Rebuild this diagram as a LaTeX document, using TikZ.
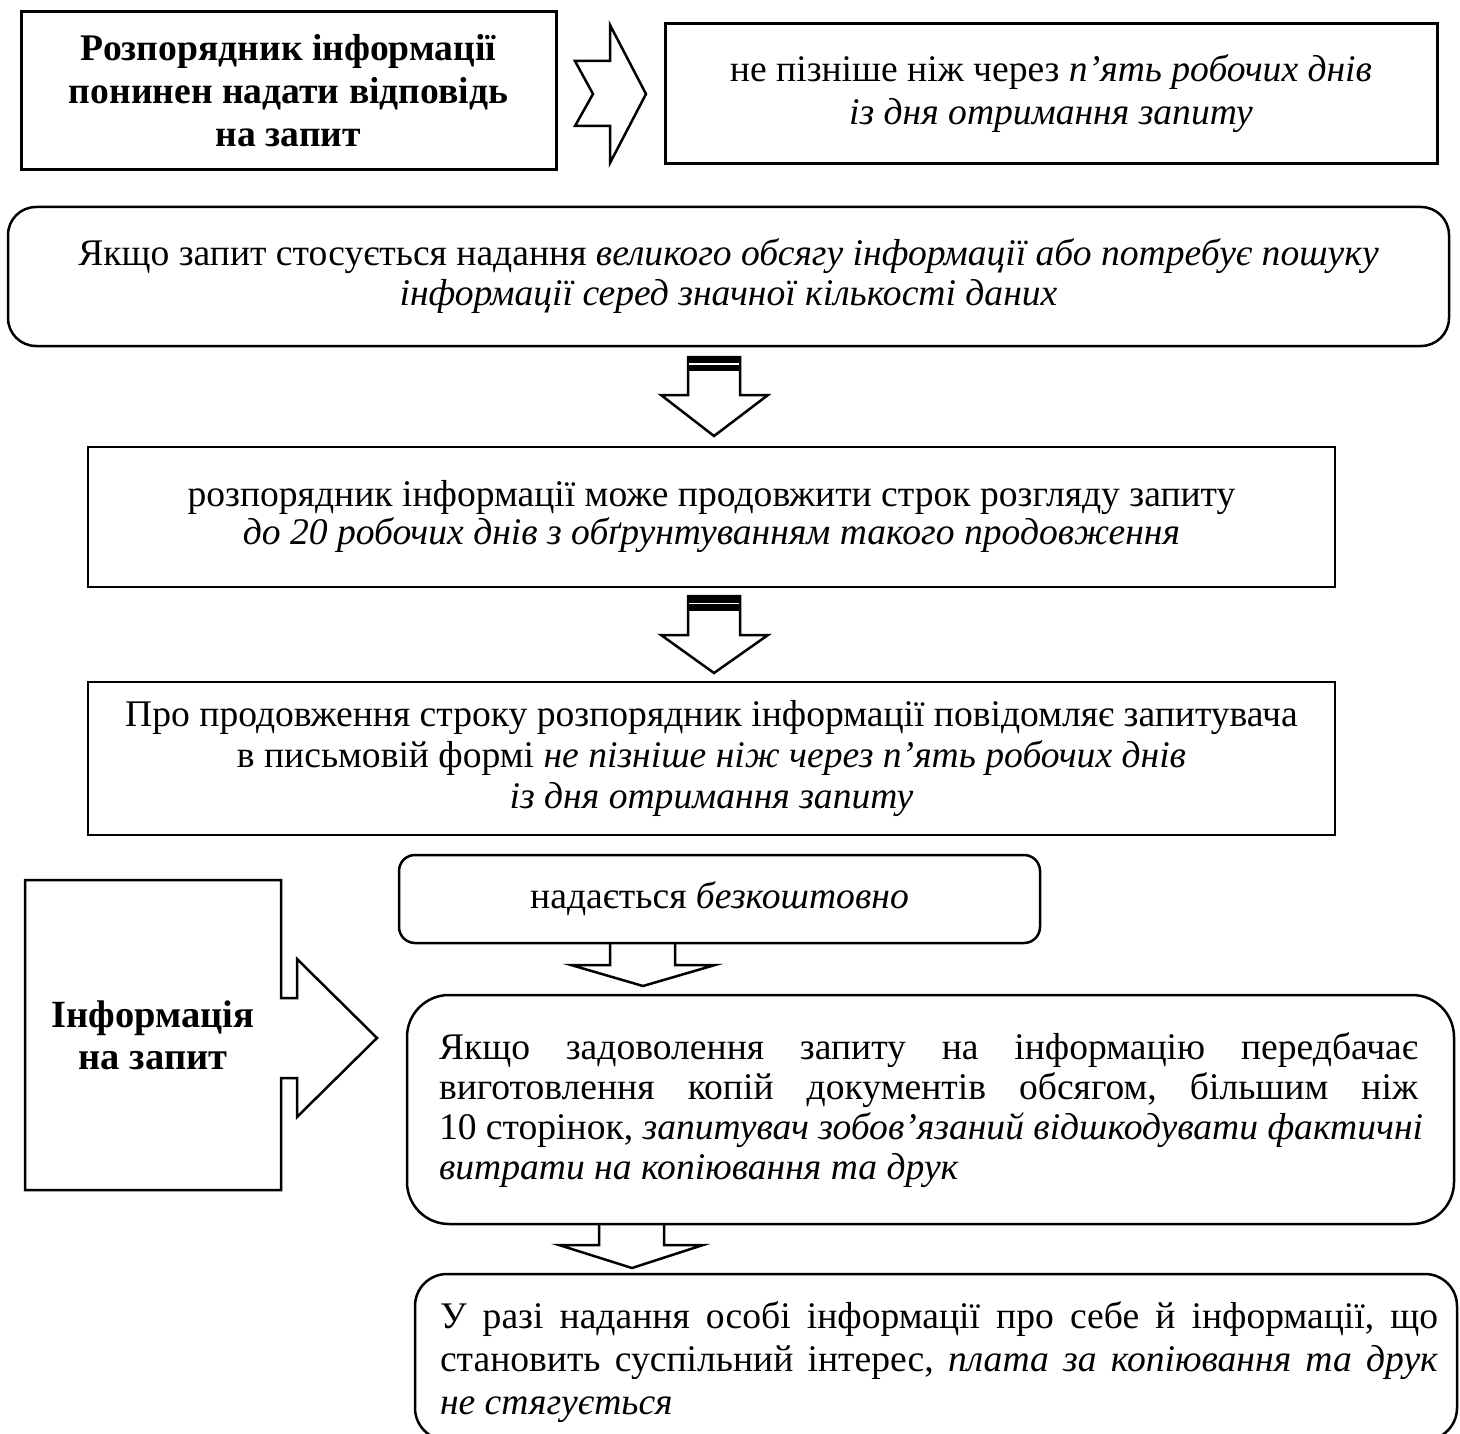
\documentclass[tikz,border=0pt]{standalone}
\usepackage{fontspec}
\setmainfont{Liberation Serif}
\newcommand\jline[2]{\hbox to #1{\frenchspacing\spaceskip=0.25em plus 1fil\relax #2}}
\begin{document}
\begin{tikzpicture}[x=1pt,y=-1pt,
  txt/.style={font={\fontsize{37.6}{40}\selectfont}, align=center, inner sep=0pt},
  bx/.style={draw, line width=2.5pt, inner sep=0pt, align=center, font={\fontsize{37.6}{40}\selectfont}},
  bxthick/.style={bx, line width=3pt},
  blockarrow/.style={draw, line width=2.5pt, line join=miter, fill=white}]
\clip (0,0) rectangle (1460,1434);
\fill[white] (0,0) rectangle (1460,1434);

% block arrows first
\draw[blockarrow] (575,61) -- (610,61) -- (610,25) -- (646,94) -- (610,163) -- (610,126) -- (575,126) -- (593,94) -- cycle;
\draw[blockarrow] (688,357) -- (740,357) -- (740,395) -- (768,395) -- (714,436) -- (661,395) -- (688,395) -- cycle;
\fill[black] (688,357) rectangle (740,371);
\draw[white, line width=1.5pt] (689,364) -- (739,364);
\draw[blockarrow] (688,596) -- (740,596) -- (740,635) -- (768,635) -- (714,673) -- (661,635) -- (688,635) -- cycle;
\fill[black] (688,596) rectangle (740,611);
\draw[white, line width=1.5pt] (689,603.5) -- (739,603.5);
\draw[blockarrow] (610,943) -- (610,965) -- (571,965) -- (643,986) -- (715,965) -- (675,965) -- (675,943);
\draw[blockarrow] (599,1225) -- (599,1245) -- (559,1245) -- (632,1268) -- (703,1245) -- (664,1245) -- (664,1225);

% top row
\node[bxthick, minimum width=535pt, minimum height=158pt, font={\fontsize{37.6}{43}\selectfont\bfseries}] (b1) at (288.5,91)
  {Розпорядник інформації\\понинен надати відповідь\\на запит};
\node[bxthick, minimum width=772pt, minimum height=140pt, font={\fontsize{37.6}{43}\selectfont}] (b2) at (1051,94)
  {не пізніше ніж через \textit{п’ять робочих днів}\\\textit{із дня отримання запиту}};

% b3
\node[bx, rounded corners=28pt, minimum width=1441pt, minimum height=139pt] (b3) at (728.5,276.5)
  {Якщо запит стосується надання \textit{великого обсягу інформації або потребує пошуку}\\\textit{інформації серед значної кількості даних}};

% b4
\node[bx, minimum width=1247pt, minimum height=140pt, font={\fontsize{37.6}{38}\selectfont}] (b4) at (711.5,517)
  {розпорядник інформації може продовжити строк розгляду запиту\\\textit{до 20 робочих днів з обґрунтуванням такого продовження}};

% b5
\node[bx, minimum width=1247pt, minimum height=153pt, font={\fontsize{37.6}{41}\selectfont}] (b5) at (711.5,758.5)
  {Про продовження строку розпорядник інформації повідомляє запитувача\\в письмовій формі \textit{не пізніше ніж через п’ять робочих днів}\\\textit{із дня отримання запиту}};

% left box with arrow
\draw[blockarrow] (25,880) -- (281,880) -- (281,998) -- (297,998) -- (297,959) -- (377,1038) -- (297,1117) -- (297,1078) -- (281,1078) -- (281,1190) -- (25,1190) -- cycle;
\node[txt, font={\fontsize{38.5}{42}\selectfont\bfseries}] (b6) at (153,1035) {Інформація\\на запит};

% b7
\node[bx, rounded corners=16pt, minimum width=641pt, minimum height=88pt] (b7) at (719.5,899)
  {надається \textit{безкоштовно}};

% b8
\node[bx, rounded corners=42pt, minimum width=1047pt, minimum height=229pt] (b8) at (930.5,1109.5) {};
\node[txt, align=left, font={\fontsize{37.6}{40}\selectfont}] (t8) at (928.5,1110)
  {\jline{979pt}{Якщо задоволення запиту на інформацію передбачає}\\
   \jline{979pt}{виготовлення копій документів обсягом, більшим ніж}\\
   \jline{979pt}{10 сторінок, \textit{запитувач зобов’язаний відшкодувати фактичні}}\\
   \hbox to 979pt{\textit{витрати на копіювання та друк}\hfil}};

% b9
\node[bx, rounded corners=32pt, minimum width=1042pt, minimum height=166pt] (b9) at (936,1357) {};
\node[txt, align=left, font={\fontsize{37.6}{43}\selectfont}] (t9) at (939,1362)
  {\jline{998pt}{У разі надання особі інформації про себе й інформації, що}\\
   \jline{998pt}{становить суспільний інтерес, \textit{плата за копіювання та друк}}\\
   \hbox to 998pt{\textit{не стягується}\hfil}};
\end{tikzpicture}
\end{document}
